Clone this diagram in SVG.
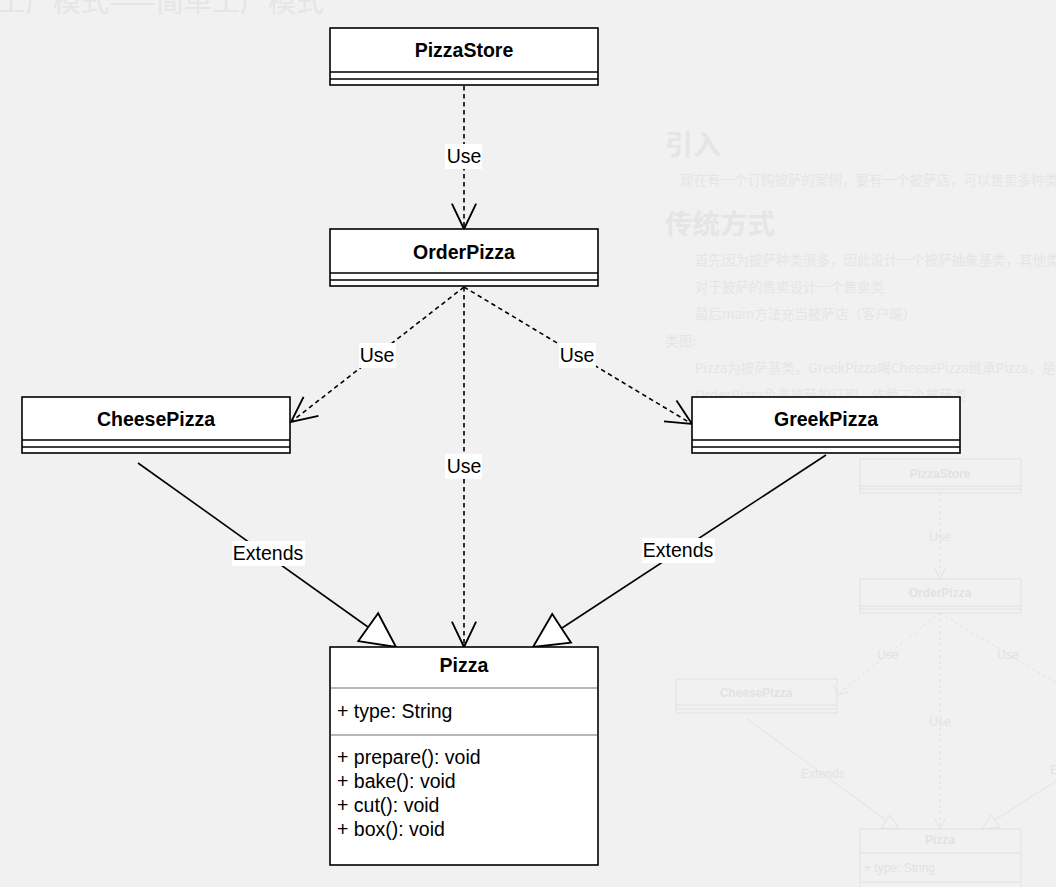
<svg xmlns="http://www.w3.org/2000/svg" width="1056" height="887" viewBox="0 0 1056 887">
<style>
.bg{fill:#f1f1f1}
.gt{font-family:"Noto Sans CJK SC","Noto Sans",sans-serif;fill:#e5e5e5}
.gh{font-weight:bold}
.gs{fill:none;stroke:#e2e2e2;stroke-width:1}
.gd{stroke-dasharray:3 3}
.gl{font-family:"Liberation Sans",Arial,sans-serif;font-size:12px;fill:#e2e2e2;text-anchor:middle}
.gla{font-family:"Liberation Sans",Arial,sans-serif;font-size:12px;fill:#e2e2e2;text-anchor:start}
.box{fill:#fff;stroke:#000;stroke-width:1.6}
.sep{fill:none;stroke:#000;stroke-width:1.6}
.sepg{fill:none;stroke:#a0a0a0;stroke-width:1.4}
.title{font-family:"Liberation Sans",Arial,sans-serif;font-size:19.5px;font-weight:bold;fill:#000;text-anchor:middle}
.attr{font-family:"Liberation Sans",Arial,sans-serif;font-size:19.5px;fill:#000}
.lbl{font-family:"Liberation Sans",Arial,sans-serif;font-size:19.5px;fill:#000;text-anchor:middle}
.lblbg{fill:#fff}
.dash{fill:none;stroke:#000;stroke-width:1.6;stroke-dasharray:4.5 3.5}
.solid{fill:none;stroke:#000;stroke-width:1.6}
</style>
<defs>
<marker id="open" markerUnits="userSpaceOnUse" markerWidth="30" markerHeight="30" viewBox="-2 -12 26 24" refX="22" refY="0" orient="auto" overflow="visible">
<path d="M0,-10.5 L22,0 L0,10.5" fill="none" stroke="#000" stroke-width="1.6"/>
</marker>
<marker id="tri" markerUnits="userSpaceOnUse" markerWidth="40" markerHeight="40" viewBox="-2 -16 34 32" refX="29" refY="0" orient="auto" overflow="visible">
<path d="M0,-14.5 L29,0 L0,14.5 Z" fill="#fff" stroke="#000" stroke-width="1.6"/>
</marker>
</defs>
<rect class="bg" x="0" y="0" width="1056" height="887"/>

<g id="background-page">
<text class="gt" x="-3" y="12" font-size="28">工厂模式——简单工厂模式</text>
<text class="gt gh" x="665" y="155" font-size="28">引入</text>
<text class="gt" x="680" y="185" font-size="13.5">现在有一个订购披萨的案例，要有一个披萨店，可以售卖多种类型的披萨</text>
<text class="gt gh" x="665" y="234" font-size="27.5">传统方式</text>
<text class="gt" x="695" y="265" font-size="13.5">首先因为披萨种类很多，因此设计一个披萨抽象基类，其他类型的披萨继承</text>
<text class="gt" x="695" y="292" font-size="13.5">对于披萨的售卖设计一个售卖类</text>
<text class="gt" x="695" y="319" font-size="13.5">最后main方法充当披萨店（客户端）</text>
<text class="gt" x="665" y="346" font-size="13.5">类图:</text>
<text class="gt" x="695" y="373" font-size="13.5">Pizza为披萨基类，GreekPizza喝CheesePizza继承Pizza，是不同的披萨</text>
<text class="gt" x="695" y="400" font-size="13.5">OrderPizza负责披萨的订购，依赖三个披萨类</text>
<rect class="gs" x="860" y="459" width="161" height="34"/>
<path class="gs" d="M860,486H1021M860,489H1021"/>
<text class="gl gh" x="940" y="478">PizzaStore</text>
<rect class="gs" x="860" y="579" width="161" height="34"/>
<path class="gs" d="M860,606H1021M860,609H1021"/>
<text class="gl gh" x="940" y="597">OrderPizza</text>
<rect class="gs" x="676" y="679" width="161" height="34"/>
<path class="gs" d="M676,705H837M676,709H837"/>
<text class="gl gh" x="756" y="697">CheesePizza</text>
<rect class="gs" x="860" y="829" width="161" height="70"/>
<path class="gs" d="M860,853H1021M860,882H1021"/>
<text class="gl gh" x="940" y="844">Pizza</text>
<text class="gla" x="864" y="872">+ type: String</text>
<path class="gs gd" d="M940,493V579M940,613V829M940,613L837,695M940,613L1056,683"/>
<path class="gs" d="M934,567L940,579L946,567M834,685L837,695L848,692M934,817L940,829L946,817"/>
<path class="gs" d="M747,719L886,820M1056,781L995,820"/>
<path class="gs" d="M899,829L881,828L890,815ZM982,829L991,815L1000,827Z"/>
<text class="gl" x="940" y="541">Use</text>
<text class="gl" x="888" y="659">Use</text>
<text class="gl" x="1008" y="659">Use</text>
<text class="gl" x="940" y="726">Use</text>
<text class="gl" x="823" y="778">Extends</text>
<text class="gl" x="1072" y="774">Extends</text>
</g>

<g id="connectors">
<path class="dash" d="M464,86V229" marker-end="url(#open)"/>
<path class="dash" d="M464,287L291,422" marker-end="url(#open)"/>
<path class="dash" d="M464,287L692,424" marker-end="url(#open)"/>
<path class="dash" d="M464,287V647" marker-end="url(#open)"/>
<path class="solid" d="M138,463L396,647" marker-end="url(#tri)"/>
<path class="solid" d="M826,455L533,647" marker-end="url(#tri)"/>
<rect class="lblbg" x="445" y="144" width="37" height="25"/>
<text class="lbl" x="464" y="163">Use</text>
<rect class="lblbg" x="359" y="343" width="37" height="25"/>
<text class="lbl" x="377" y="362">Use</text>
<rect class="lblbg" x="559" y="343" width="37" height="25"/>
<text class="lbl" x="577" y="362">Use</text>
<rect class="lblbg" x="445" y="454" width="37" height="25"/>
<text class="lbl" x="464" y="473">Use</text>
<rect class="lblbg" x="232" y="541" width="73" height="25"/>
<text class="lbl" x="268" y="560">Extends</text>
<rect class="lblbg" x="642" y="538" width="73" height="25"/>
<text class="lbl" x="678" y="557">Extends</text>
</g>

<g id="PizzaStore">
<rect class="box" x="330" y="28" width="268" height="57"/>
<path class="sep" d="M330,72H598M330,79H598"/>
<text class="title" x="464" y="57">PizzaStore</text>
</g>
<g id="OrderPizza">
<rect class="box" x="330" y="229" width="268" height="57"/>
<path class="sep" d="M330,273H598M330,280H598"/>
<text class="title" x="464" y="259">OrderPizza</text>
</g>
<g id="CheesePizza">
<rect class="box" x="22" y="397" width="268" height="56"/>
<path class="sep" d="M22,440H290M22,447H290"/>
<text class="title" x="156" y="426">CheesePizza</text>
</g>
<g id="GreekPizza">
<rect class="box" x="692" y="397" width="268" height="56"/>
<path class="sep" d="M692,440H960M692,447H960"/>
<text class="title" x="826" y="426">GreekPizza</text>
</g>
<g id="Pizza">
<rect class="box" x="330" y="647" width="268" height="218"/>
<path class="sepg" d="M331,688H597M331,735H597"/>
<text class="title" x="464" y="672">Pizza</text>
<text class="attr" x="337" y="718">+ type: String</text>
<text class="attr" x="337" y="764">+ prepare(): void</text>
<text class="attr" x="337" y="788">+ bake(): void</text>
<text class="attr" x="337" y="812">+ cut(): void</text>
<text class="attr" x="337" y="836">+ box(): void</text>
</g>
</svg>
